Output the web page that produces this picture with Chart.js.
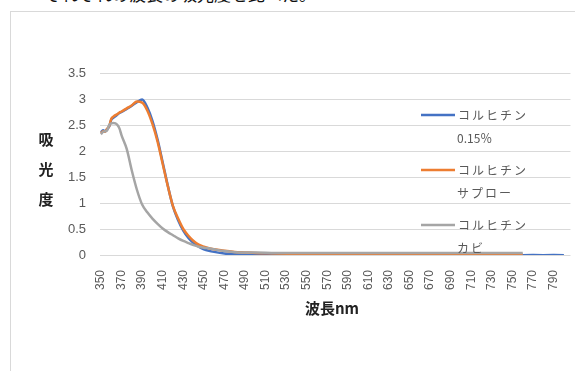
<!DOCTYPE html>
<html lang="ja">
<head>
<meta charset="utf-8">
<script src="https://cdn.jsdelivr.net/npm/chart.js@4/dist/chart.umd.min.js"></script>
<style>
  html, body { margin: 0; padding: 0; width: 575px; height: 371px; overflow: hidden; background: #fff; }
  #honbun {
    position: absolute; left: 44px; top: -19px;
    font: 17px "Noto Sans CJK JP", sans-serif; color: #111; white-space: nowrap;
  }
  #waku {
    position: absolute; left: 10px; top: 11px; width: 564px; height: 359px;
    border: 1px solid #d9d9d9;
  }
  #graf { display: block; }
</style>
</head>
<body>
<div id="honbun">それぞれの波長の吸光度を比べた。</div>
<div id="waku"><canvas id="graf" width="564" height="359"></canvas></div>
<script>
// 波長 (nm)
const hacho = [350, 352, 354, 356, 358, 360, 362, 364, 366, 368, 370,
  375, 380, 385, 390, 395, 400, 405, 410, 415, 420, 425, 430, 435, 440,
  445, 450, 455, 460, 470, 480, 490, 500, 520, 540, 560, 580, 600, 620,
  640, 660, 680, 700, 720, 740, 760, 780, 800];

// 吸光度
const kyukoSaibo = [2.36, 2.40, 2.38, 2.42, 2.47, 2.60, 2.64, 2.67, 2.70, 2.73, 2.75,
  2.81, 2.87, 2.94, 2.99, 2.84, 2.58, 2.22, 1.78, 1.33, 0.93, 0.67, 0.47, 0.33, 0.23,
  0.16, 0.11, 0.08, 0.06, 0.03, 0.015, 0.005, 0, -0.005, -0.005, -0.005, -0.005, -0.005, -0.005,
  -0.005, -0.005, -0.005, -0.005, -0.005, -0.005, -0.005, -0.005, -0.005];
const kyukoSapuro = [2.34, 2.38, 2.37, 2.43, 2.48, 2.62, 2.66, 2.69, 2.71, 2.74, 2.76,
  2.82, 2.88, 2.95, 2.93, 2.78, 2.52, 2.18, 1.75, 1.32, 0.94, 0.70, 0.50, 0.37, 0.27,
  0.20, 0.16, 0.13, 0.11, 0.08, 0.06, 0.05, 0.04, 0.03, 0.02, 0.01, 0.01, 0.01, 0.01,
  0.01, 0.01, 0.01, 0.01, 0.01, 0.01, 0.01, null, null];
const kyukoKabi = [2.32, 2.37, 2.38, 2.40, 2.50, 2.53, 2.54, 2.53, 2.50, 2.43, 2.30,
  2.04, 1.62, 1.25, 0.97, 0.82, 0.70, 0.60, 0.51, 0.44, 0.38, 0.32, 0.27, 0.23, 0.19,
  0.16, 0.14, 0.13, 0.11, 0.075, 0.055, 0.05, 0.05, 0.04, 0.04, 0.04, 0.04, 0.04, 0.04,
  0.04, 0.04, 0.04, 0.04, 0.04, 0.04, 0.04, null, null];

const keiretsuMei = [["コルヒチン", "0.15％"], ["コルヒチン", "サプロー"], ["コルヒチン", "カビ"]];
const iro = ["#4472C4", "#ED7D31", "#A5A5A5"];

// x軸の目盛り (20nmおき)
const meMori = [350, 370, 390, 410, 430, 450, 470, 490, 510, 530, 550, 570, 590,
  610, 630, 650, 670, 690, 710, 730, 750, 770, 790];

function tenRetsu(vals) {
  return hacho.map((h, i) => ({ x: h, y: vals[i] }));
}

const hanrei = {
  id: "hanrei",
  afterDraw(chart) {
    const ctx = chart.ctx;
    ctx.save();
    // 凡例
    ctx.font = "12px 'Noto Sans CJK JP', sans-serif";
    ctx.textBaseline = "middle";
    ctx.textAlign = "left";
    chart.data.datasets.forEach((ds, i) => {
      const y = 103 + i * 55;
      ctx.strokeStyle = ds.borderColor;
      ctx.lineWidth = 2.5;
      ctx.beginPath();
      ctx.moveTo(410, y);
      ctx.lineTo(444, y);
      ctx.stroke();
      ctx.fillStyle = "#595959";
      ds.mei.forEach((t, j) => {
        ctx.letterSpacing = /[0-9]/.test(t) ? "0px" : "2px";
        ctx.fillText(t, 447 - j, y + j * 23);
      });
    });
    ctx.letterSpacing = "0px";
    // 軸ラベル
    ctx.fillStyle = "#222";
    ctx.font = "bold 15px 'Noto Sans CJK JP', sans-serif";
    ctx.textAlign = "center";
    ["吸", "光", "度"].forEach((c, i) => ctx.fillText(c, 35, 127 + i * 30));
    ctx.fillText("波長nm", 321, 296);
    ctx.restore();
  }
};

new Chart(document.getElementById("graf"), {
  type: "line",
  data: {
    datasets: [kyukoSaibo, kyukoSapuro, kyukoKabi].map((v, i) => ({
      label: keiretsuMei[i].join(" "),
      mei: keiretsuMei[i],
      data: tenRetsu(v),
      borderColor: iro[i],
      backgroundColor: iro[i],
      borderWidth: 2.5,
      pointRadius: 0,
      cubicInterpolationMode: "monotone",
      order: 2 - i
    }))
  },
  options: {
    responsive: false,
    animation: false,
    events: [],
    layout: { padding: { left: 0, right: 0, top: 61, bottom: 66 } },
    plugins: { legend: { display: false }, tooltip: { enabled: false } },
    scales: {
      x: {
        type: "linear",
        min: 349.04,
        max: 806.4,
        afterBuildTicks: s => { s.ticks = meMori.map(v => ({ value: v })); },
        afterFit: s => { s.height = 50; },
        grid: { display: false },
        border: { display: false },
        ticks: {
          minRotation: 90, maxRotation: 90, padding: 7,
          color: "#595959",
          font: { family: "'Liberation Sans', sans-serif", size: 12 },
          callback: v => String(v)
        }
      },
      y: {
        min: 0, max: 3.5,
        afterFit: s => { s.width = 89; },
        grid: { color: "#d9d9d9", lineWidth: 1, drawTicks: false },
        border: { display: false },
        ticks: {
          stepSize: 0.5, padding: 14,
          color: "#595959",
          font: { family: "'Liberation Sans', sans-serif", size: 13 },
          callback: v => String(v)
        }
      }
    }
  },
  plugins: [hanrei]
});
</script>
</body>
</html>
